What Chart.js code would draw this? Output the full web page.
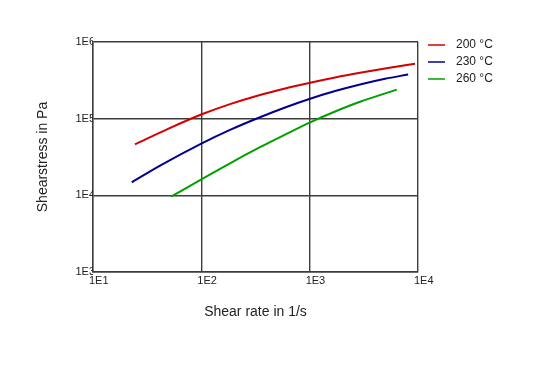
<!DOCTYPE html>
<html>
<head>
<meta charset="utf-8">
<script src="https://cdn.jsdelivr.net/npm/chart.js@4/dist/chart.umd.min.js"></script>
<style>
  body { margin: 0; background: #fff; }
  #wrap { width: 533px; height: 378px; }
</style>
</head>
<body>
<div id="wrap"><canvas id="flowChart" width="533" height="378"></canvas></div>
<script>
// (log-log)
const seriesLabels = ['200 °C', '230 °C', '260 °C'];
const seriesColors = ['#d40000', '#00008f', '#00a000'];

const rate200 = [24.4, 49.3, 101, 184, 348, 593, 1010, 1718, 2917, 4966, 9400];
const stress200 = [46200, 73600, 114000, 155000, 204000, 248000, 294000, 344000, 396000, 451000, 521000];
const rate230 = [22.8, 41.6, 101, 184, 334, 593, 1010, 1718, 2917, 4966, 8110];
const stress230 = [14800, 24400, 47600, 71300, 102000, 140000, 182000, 229000, 279000, 331000, 377000];
const rate260 = [52.5, 101, 184, 348, 593, 1010, 1718, 2917, 6370];
const stress260 = [9590, 16300, 26200, 42400, 62000, 89500, 124000, 166000, 239000];

const xTicks = [10, 100, 1000, 10000];
const xTickLabels = ['1E1', '1E2', '1E3', '1E4'];
const yTicks = [1000, 10000, 100000, 1000000];
const yTickLabels = ['1E3', '1E4', '1E5', '1E6'];

const rates = [rate200, rate230, rate260];
const stresses = [stress200, stress230, stress260];

const datasets = seriesLabels.map((label, i) => ({
  label: label,
  data: rates[i].map((r, j) => ({ x: r, y: stresses[i][j] })),
  borderColor: seriesColors[i],
  backgroundColor: seriesColors[i],
  borderWidth: 2,
  pointRadius: 0,
  showLine: true,
  cubicInterpolationMode: 'monotone',
}));

// legend drawn to the right of the plot
const sideLegend = {
  id: 'sideLegend',
  afterDraw(chart) {
    const c = chart.ctx;
    c.save();
    c.font = '12px "Liberation Sans", Arial, sans-serif';
    c.textBaseline = 'middle';
    chart.data.datasets.forEach((ds, i) => {
      const y = 45 + i * 17;
      c.strokeStyle = ds.borderColor;
      c.lineWidth = 1.5;
      c.beginPath();
      c.moveTo(428, y);
      c.lineTo(445, y);
      c.stroke();
      c.fillStyle = '#222';
      c.fillText(ds.label, 456, y);
    });
    c.restore();
  }
};

const gridStyle = { color: '#3c3c3c', lineWidth: 1.4, drawTicks: false };

new Chart(document.getElementById('flowChart'), {
  type: 'scatter',
  data: { datasets: datasets },
  options: {
    responsive: false,
    animation: false,
    layout: { padding: { left: 0, right: 115, top: 42, bottom: 56 } },
    plugins: { legend: { display: false }, tooltip: { enabled: false } },
    scales: {
      x: {
        type: 'logarithmic',
        min: 10,
        max: 10000,
        grid: gridStyle,
        border: { color: '#3c3c3c', width: 1.4 },
        afterBuildTicks: scale => { scale.ticks = xTicks.map(v => ({ value: v })); },
        afterFit: scale => { scale.height = 50; },
        ticks: {
          autoSkip: false,
          maxRotation: 0,
          align: 'start',
          labelOffset: -4,
          padding: 2,
          color: '#222',
          font: { family: '"Liberation Sans", Arial, sans-serif', size: 11 },
          callback: (value, index) => xTickLabels[index],
        },
        title: {
          display: true,
          text: 'Shear rate in 1/s',
          color: '#222',
          padding: { top: 0, bottom: 1 },
          font: { family: '"Liberation Sans", Arial, sans-serif', size: 14 },
        },
      },
      y: {
        type: 'logarithmic',
        min: 1000,
        max: 1000000,
        grid: gridStyle,
        border: { color: '#3c3c3c', width: 1.4 },
        afterBuildTicks: scale => { scale.ticks = yTicks.map(v => ({ value: v })); },
        afterFit: scale => { scale.width = 93; },
        ticks: {
          autoSkip: false,
          padding: -2,
          color: '#222',
          font: { family: '"Liberation Sans", Arial, sans-serif', size: 11 },
          callback: (value, index) => yTickLabels[index],
        },
        title: {
          display: true,
          text: 'Shearstress in Pa',
          color: '#222',
          padding: { top: 35, bottom: 0 },
          font: { family: '"Liberation Sans", Arial, sans-serif', size: 14 },
        },
      },
    },
  },
  plugins: [sideLegend],
});
</script>
</body>
</html>
